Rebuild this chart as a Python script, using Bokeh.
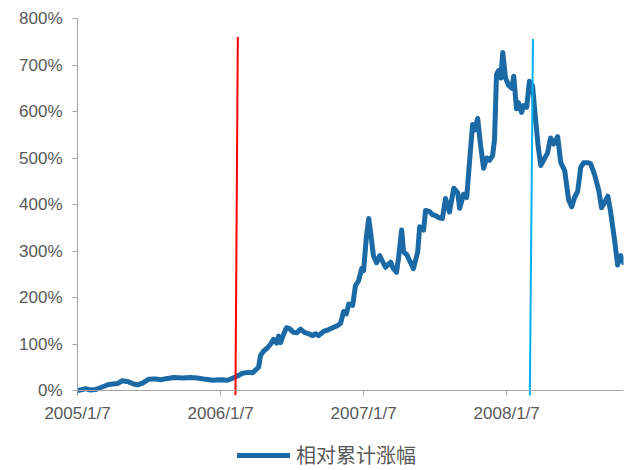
import pandas as pd
from bokeh.plotting import figure
from bokeh.layouts import column
from bokeh.models import (ColumnDataSource, Range1d, FixedTicker, PrintfTickFormatter,
                          CustomJSTickFormatter, Span, Legend, LegendItem)
from bokeh.embed import file_html
from bokeh.resources import INLINE

# Weekly relative cumulative gain, in percent
dates = [
    "2005-01-07", "2005-01-20", "2005-01-27", "2005-02-09", "2005-02-22", "2005-03-06",
    "2005-03-27", "2005-04-19", "2005-05-01", "2005-05-17", "2005-05-30", "2005-06-09",
    "2005-06-22", "2005-07-07", "2005-07-25", "2005-08-07", "2005-08-25", "2005-09-09",
    "2005-10-02", "2005-10-22", "2005-11-09", "2005-11-30", "2005-12-18", "2006-01-07",
    "2006-01-25", "2006-02-09", "2006-02-19", "2006-03-04", "2006-03-19", "2006-03-30",
    "2006-04-06", "2006-04-14", "2006-04-19", "2006-04-27", "2006-05-07", "2006-05-15",
    "2006-05-22", "2006-05-30", "2006-06-04", "2006-06-09", "2006-06-17", "2006-06-24",
    "2006-07-02", "2006-07-12", "2006-07-20", "2006-07-30", "2006-08-09", "2006-08-20",
    "2006-08-30", "2006-09-06", "2006-09-14", "2006-09-27", "2006-10-10", "2006-10-20",
    "2006-11-02", "2006-11-09", "2006-11-17", "2006-11-24", "2006-11-30", "2006-12-10",
    "2006-12-17", "2006-12-25", "2007-01-02", "2007-01-07", "2007-01-14", "2007-01-20",
    "2007-01-25", "2007-02-01", "2007-02-09", "2007-02-17", "2007-02-24", "2007-03-04",
    "2007-03-12", "2007-03-17", "2007-03-24", "2007-04-01", "2007-04-06", "2007-04-14",
    "2007-04-19", "2007-04-27", "2007-05-04", "2007-05-14", "2007-05-25", "2007-05-30",
    "2007-06-09", "2007-06-14", "2007-06-24", "2007-07-02", "2007-07-10", "2007-07-17",
    "2007-07-27", "2007-08-04", "2007-08-14", "2007-08-25", "2007-09-04", "2007-09-09",
    "2007-09-19", "2007-09-27", "2007-10-04", "2007-10-12", "2007-10-17", "2007-10-25",
    "2007-11-01", "2007-11-09", "2007-11-17", "2007-11-24", "2007-12-02", "2007-12-07",
    "2007-12-12", "2007-12-17", "2007-12-23", "2007-12-28", "2008-01-04", "2008-01-12",
    "2008-01-20", "2008-01-25", "2008-02-01", "2008-02-06", "2008-02-14", "2008-02-19",
    "2008-02-27", "2008-03-05", "2008-03-13", "2008-03-21", "2008-03-28", "2008-04-03",
    "2008-04-13", "2008-04-20", "2008-04-28", "2008-05-06", "2008-05-16", "2008-05-24",
    "2008-06-03", "2008-06-13", "2008-06-21", "2008-06-28", "2008-07-06", "2008-07-14",
    "2008-07-21", "2008-08-01", "2008-08-08", "2008-08-18", "2008-08-29", "2008-09-05",
    "2008-09-13", "2008-09-21", "2008-09-28", "2008-10-08", "2008-10-16", "2008-10-24",
    "2008-10-31",
]
rel_gain = [
    0, 2, 4, 1, 2, 6,
    13, 15, 21, 19, 14, 12,
    16, 24, 25, 23, 26, 28,
    27, 28, 27, 24, 22, 23,
    22, 27, 31, 37, 39, 38,
    44, 50, 75, 85, 92, 100,
    110, 102, 117, 103, 121, 135,
    133, 125, 124, 132, 125, 122,
    118, 122, 118, 127, 131, 135,
    140, 144, 170, 165, 186, 183,
    225, 236, 262, 258, 330, 370,
    338, 290, 275, 290, 278, 265,
    272, 276, 262, 254, 285, 345,
    298, 292, 280, 262, 298, 352,
    345, 387, 385, 378, 376, 372,
    370, 413, 384, 435, 425, 392,
    422, 415, 490, 572, 560, 585,
    530, 478, 500, 495, 505, 540,
    680, 688, 672, 727, 672, 656,
    650, 676, 606, 619, 598, 613,
    609, 665, 655, 580, 520, 484,
    500, 510, 543, 530, 546, 490,
    473, 410, 395, 415, 428, 480,
    490, 490, 488, 465, 430, 393,
    405, 418, 385, 325, 270, 290,
    275,
]

tick_dates = ["2005-01-07", "2006-01-07", "2007-01-07", "2008-01-07"]
y_ticks = [0, 100, 200, 300, 400, 500, 600, 700, 800]

# Event marker lines (top and bottom end points)
event_top_dates = ["2006-02-20", "2008-03-14"]
event_bottom_dates = ["2006-02-14", "2008-03-06"]
event_top_values = [760, 756]
event_bottom_values = [-10, -12]
event_colors = ["#ff0000", "#00b0f0"]

series_name = "相对累计涨幅"
series_color = "#1b69a5"

to_dt = lambda s: pd.to_datetime(s)
src = ColumnDataSource(data=dict(x=to_dt(dates), y=rel_gain))
ev_src = ColumnDataSource(data=dict(
    x0=to_dt(event_bottom_dates), y0=event_bottom_values,
    x1=to_dt(event_top_dates), y1=event_top_values, c=event_colors))

x_start = pd.Timestamp("2005-01-07")
x_end = pd.Timestamp("2008-10-31")

p = figure(width=627, height=440, x_axis_type="datetime",
           x_range=Range1d(x_start, x_end), y_range=Range1d(-10.75, 800),
           output_backend="svg", toolbar_location=None,
           min_border_left=77, min_border_right=4, min_border_top=18,
           min_border_bottom=45)
p.outline_line_color = None
p.xgrid.visible = False
p.ygrid.visible = False
p.background_fill_color = "white"
p.border_fill_color = "white"

axis_grey = "#a6a6a6"
label_grey = "#595959"

# baseline at 0%
p.add_layout(Span(location=0, dimension="width", line_color=axis_grey, line_width=1))

line_style = dict(line_color=series_color, line_width=5, line_join="round", line_cap="round")
p.line("x", "y", source=src, **line_style)
p.segment("x0", "y0", "x1", "y1", source=ev_src, line_color="c", line_width=2)

# y axis
p.yaxis.ticker = FixedTicker(ticks=y_ticks)
p.yaxis.formatter = PrintfTickFormatter(format="%d%%")
p.yaxis.axis_line_color = axis_grey
p.yaxis.major_tick_line_color = axis_grey
p.yaxis.major_tick_out = 5
p.yaxis.major_tick_in = 0
p.yaxis.minor_tick_line_color = None
p.yaxis.major_label_standoff = 10
p.yaxis.major_label_text_font = "Liberation Sans"
p.yaxis.major_label_text_font_size = "17px"
p.yaxis.major_label_text_color = label_grey

# x axis
p.xaxis.ticker = FixedTicker(ticks=[to_dt(d).value // 10**6 for d in tick_dates])
p.xaxis.formatter = CustomJSTickFormatter(code="""
    const d = new Date(tick);
    return d.getUTCFullYear() + '/' + (d.getUTCMonth() + 1) + '/' + d.getUTCDate();
""")
p.xaxis.axis_line_color = None
p.xaxis.major_tick_line_color = axis_grey
p.xaxis.major_tick_in = 5
p.xaxis.major_tick_out = 0
p.xaxis.minor_tick_line_color = None
p.xaxis.major_label_standoff = 8
p.xaxis.major_label_text_font = "Liberation Sans"
p.xaxis.major_label_text_font_size = "17px"
p.xaxis.major_label_text_color = label_grey

# Legend strip below the chart (its frame is aligned with the chart frame)
lg = figure(width=627, height=30, x_range=Range1d(0, 1), y_range=Range1d(0, 1),
            output_backend="svg", toolbar_location=None,
            min_border_left=0, min_border_right=0, min_border_top=0, min_border_bottom=0)
lg.axis.visible = False
lg.grid.visible = False
lg.outline_line_color = None
lg.background_fill_color = "white"
lg.border_fill_color = "white"
# single off-range point: nothing drawn in the strip, only the legend swatch
proxy = lg.line(x=[2], y=[2], **line_style)
legend = Legend(items=[LegendItem(label=series_name, renderers=[proxy])],
                location=(160, 1), orientation="horizontal",
                border_line_color=None, background_fill_alpha=0,
                padding=0, margin=0, glyph_width=53, glyph_height=20,
                label_height=20, label_standoff=6,
                label_text_font="Noto Sans CJK SC", label_text_font_size="20px",
                label_text_color=label_grey)
lg.add_layout(legend, "center")

layout = column(p, lg, spacing=0)
open("out.html", "w").write(file_html(layout, INLINE))
